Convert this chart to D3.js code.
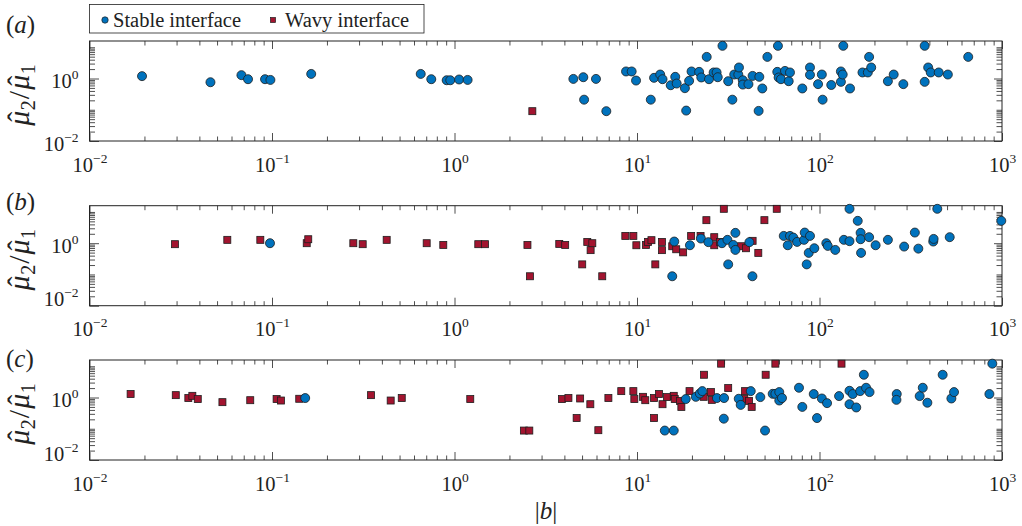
<!DOCTYPE html>
<html><head><meta charset="utf-8">
<script src="https://cdn.jsdelivr.net/npm/d3@7"></script>
<style>
html,body{margin:0;padding:0;background:#fff;}
svg{display:block;font-family:"Liberation Serif","Times New Roman",serif;}
</style></head>
<body>
<svg id="chart" width="1022" height="526"></svg>
<script>
// ---------- data (|b|, mu2/mu1) ----------
const panelNames = ["a", "b", "c"];
const seriesNames = ["Stable interface", "Wavy interface"];
const xTickValues = [1e-2, 1e-1, 1e0, 1e1, 1e2, 1e3];
const xTickExps = ["\u22122", "\u22121", "0", "1", "2", "3"];
const yTickValues = [1e-2, 1e0];
const yTickExps = ["\u22122", "0"];

const aStableB = [0.0194,0.046,0.068,0.0739,0.0916,0.098,0.164,0.653,0.746,0.906,0.948,1.06,1.18,4.48,5.08,5.13,5.96,6.79,8.71,9.35,9.88,11.9,12.4,13.4,13.8,15.3,16.2,16.5,18.3,18.6,19.3,19.9,21.9,22.5,24.1,24.8,26.3,27.3,27.7,29.4,31.6,33.3,34.1,35.9,36.2,38,38,40.8,43,46.4,46.8,48.6,51.8,58.7,59.2,59.7,61.5,64.7,67.8,68.9,80.5,88.7,88.7,98.2,103,104,116,131,131,134,135,147,172,184,187,192,237,255,288,377,377,394,407,450,505,653];
const aStableMu = [1.19,0.76,1.28,0.95,0.95,0.9,1.4,1.4,0.95,0.88,0.88,0.93,0.9,0.97,1.1,0.21,0.97,0.09,1.68,1.68,0.86,0.21,1.05,1.34,0.95,0.61,1.13,0.69,0.49,0.094,0.84,1.68,1.63,1.08,4.92,0.95,1.56,1.56,1.1,11.1,0.82,0.21,1.34,1.34,2.25,0.88,0.64,0.66,1.21,0.092,1.13,0.48,4.92,1.63,11.1,1.08,0.95,1.75,0.82,1.56,0.48,2.25,1.31,0.66,1.34,0.21,0.62,1.68,0.78,1.34,11.1,0.48,1.56,1.56,4.92,2.25,0.82,1.34,0.66,11.1,0.78,2.25,1.56,1.56,1.34,4.92];
const aWavyB = [2.67];
const aWavyMu = [0.09];

const bStableB = [0.0975,15.6,16,19.5,22.4,24.6,29.2,31.3,31.6,33.7,34.6,34.6,41.3,42.9,63.7,67,68.9,71.9,75.4,82.3,83,85.1,87.3,88.7,93.7,109,111,122,136,146,146,162,168,168,169,187,203,237,291,333,348,420,422,442,517,991];
const bStableMu = [1.0,0.0875,1.13,0.86,1.41,1.08,1.0,1.28,0.21,0.88,2.14,0.61,1.08,0.0875,1.71,0.86,1.71,1.51,1.1,1.28,2.19,0.21,0.49,1.71,0.69,1.0,0.82,0.61,1.28,12.6,1.16,5.19,2.14,1.34,0.49,1.56,0.86,1.28,0.78,2.19,0.67,1.13,1.37,12.6,1.56,5.19];
const bWavyB = [0.0294,0.0569,0.0863,0.155,0.158,0.279,0.314,0.425,0.704,0.868,1.35,1.47,2.51,2.59,3.75,4.04,5.01,5.34,5.57,5.69,6.45,8.63,9.55,9.92,11.2,11.5,12,12.6,13.7,13.7,15.6,16.4,17.9,19.8,22.3,24,26.5,26.5,28.5,29.9,37.2,39.6,43,46.2,49.9,58.3];
const bWavyMu = [0.93,1.28,1.28,1.0,1.34,1.0,0.93,1.28,1.0,0.88,0.93,0.93,0.88,0.0875,0.95,0.88,0.21,1.1,0.6,1.0,0.0875,1.71,1.71,0.86,0.88,1.1,1.25,0.21,1.1,0.6,0.8,0.64,0.51,1.71,1.71,5.46,1.56,0.86,1.1,12.6,0.8,0.69,1.19,0.49,5.46,12.6];

const cStableB = [0.152,14.2,15.9,18.5,21,22.1,22.8,27.4,30,29.9,36.1,37,42,47.4,50.3,55.4,57.3,60.2,60.2,62.3,77.2,80.5,93,96.9,103,110,128,146,146,152,159,167,175,180,188,265,264,354,368,390,473,528,546,853,885];
const cStableMu = [0.96,0.0875,0.0875,0.89,1.05,1.34,1.6,0.96,0.96,0.21,0.91,0.58,1.6,1.03,0.0875,1.31,1.31,1.49,0.8,0.96,2.05,0.5,1.29,0.22,0.93,0.66,1.11,0.61,1.64,1.29,0.48,1.6,5.34,2.05,1.49,1.29,0.84,1.11,2.05,0.68,5.34,0.93,1.49,1.29,12.1];
const cWavyB = [0.0168,0.0297,0.0348,0.0366,0.0392,0.0535,0.076,0.106,0.112,0.141,0.349,0.447,0.514,1.22,2.40,2.57,3.88,4.21,4.67,4.88,5.55,6.14,6.97,8.2,9.55,9.67,10.8,11.1,12.4,12.4,13.2,13.8,14.6,15.9,16.1,17.2,17.5,19.4,23.2,23.3,25.4,25.7,28.9,31.6,38.7,39.1,41.1,42.5,50.7,57.3,132];
const cWavyMu = [1.29,1.19,0.96,1.13,0.89,0.71,0.82,0.89,0.8,0.91,1.19,0.8,0.96,0.89,0.0875,0.0875,0.89,0.96,0.22,0.93,0.61,0.09,0.96,1.6,1.6,0.89,1.05,0.82,0.96,0.22,1.29,0.61,1.03,1.13,0.89,0.78,0.5,1.6,1.05,5.34,1.49,0.84,12.1,2.0,0.91,1.6,0.78,0.5,5.34,12.1,12.1];

// ---------- layout ----------
const BLUE = "#0072BD", RED = "#A2142F", EDGE = "#1e1e1e";
const FONT = 20.5, SUP = 13.5;
const panelTops = [41, 205.7, 360];
const panelH = 100;
const xLeft = 89.5, xRight = 1002;
const MU_FS = 30, SUB_FS = 20;

const svg = d3.select("#chart");
svg.append("rect").attr("width",1022).attr("height",526).attr("fill","#fff");

function measure(txt, fs, italic) {
  const t = svg.append("text").attr("font-size", fs).attr("font-style", italic ? "italic" : "normal").text(txt);
  const w = t.node().getComputedTextLength();
  t.remove();
  return w;
}
const muW = measure("\u03bc", MU_FS, true);
const hatW = measure("\u02c6", MU_FS, false);

const x = d3.scaleLog().domain([1e-2, 1e3]).range([xLeft, xRight]);

function minorTicks(lo, hi) {
  const out = [];
  for (let e = lo; e < hi; e++) for (let k = 1; k <= 9; k++) out.push(k * Math.pow(10, e));
  return out;
}
const xMinor = minorTicks(-2, 3).filter(v => !xTickValues.includes(v));
const yMinor = minorTicks(-2, 2).filter(v => !yTickValues.includes(v) && v < Math.pow(10,1.2));

const panels = [
  {sB: aStableB, sM: aStableMu, wB: aWavyB, wM: aWavyMu, lab: [33, 6]},
  {sB: bStableB, sM: bStableMu, wB: bWavyB, wM: bWavyMu, lab: [210, 6]},
  {sB: cStableB, sM: cStableMu, wB: cWavyB, wM: cWavyMu, lab: [367, 6]}
];

function supLabel(sel, exp) {
  sel.text(null);
  sel.append("tspan").text("10");
  sel.append("tspan").attr("font-size", SUP).attr("dy", -9).text(exp);
}

// mu with hat + subscript; starts on the main baseline, ends on the subscript baseline (+6)
function addMuHat(t, sub, lead, dy0) {
  t.append("tspan").attr("font-style","italic").attr("dx", lead).attr("dy", dy0).text("\u03bc");
  t.append("tspan").attr("dx", -(muW/2 + hatW/2) + 1.5).attr("dy", -1).text("\u02c6");
  t.append("tspan").attr("font-size", SUB_FS).attr("dx", (muW/2 - hatW/2) - 1).attr("dy", 7).text(sub);
}

panels.forEach((p, i) => {
  const top = panelTops[i], bottom = top + panelH;
  const y = d3.scaleLog().domain([1e-2, Math.pow(10, 1.2)]).range([bottom, top]);
  const g = svg.append("g");

  const tickStyle = s => { s.select(".domain").remove(); s.selectAll("line").attr("stroke","#222").attr("stroke-width",0.8); s.selectAll("text").remove(); };
  g.append("g").attr("transform",`translate(0,${bottom})`).call(d3.axisBottom(x).tickValues(xTickValues).tickSize(-8).tickFormat("")).call(tickStyle);
  g.append("g").attr("transform",`translate(0,${bottom})`).call(d3.axisBottom(x).tickValues(xMinor).tickSize(-4.5).tickFormat("")).call(tickStyle);
  g.append("g").attr("transform",`translate(0,${top})`).call(d3.axisTop(x).tickValues(xTickValues).tickSize(-8).tickFormat("")).call(tickStyle);
  g.append("g").attr("transform",`translate(0,${top})`).call(d3.axisTop(x).tickValues(xMinor).tickSize(-4.5).tickFormat("")).call(tickStyle);
  g.append("g").attr("transform",`translate(${xLeft},0)`).call(d3.axisLeft(y).tickValues(yTickValues).tickSize(-9.5).tickFormat("")).call(tickStyle);
  g.append("g").attr("transform",`translate(${xLeft},0)`).call(d3.axisLeft(y).tickValues(yMinor).tickSize(-5.5).tickFormat("")).call(tickStyle);
  g.append("g").attr("transform",`translate(${xRight},0)`).call(d3.axisRight(y).tickValues(yTickValues).tickSize(-8).tickFormat("")).call(tickStyle);
  g.append("g").attr("transform",`translate(${xRight},0)`).call(d3.axisRight(y).tickValues(yMinor).tickSize(-5.5).tickFormat("")).call(tickStyle);

  g.append("rect").attr("x", xLeft).attr("y", top).attr("width", xRight - xLeft).attr("height", panelH)
    .attr("fill","none").attr("stroke","#222").attr("stroke-width",1);

  const xl = g.append("g").attr("transform",`translate(0,${bottom})`)
    .call(d3.axisBottom(x).tickValues(xTickValues).tickSize(0).tickPadding(0));
  xl.select(".domain").remove();
  xl.selectAll("text").attr("font-family",'"Liberation Serif","Times New Roman",serif').attr("font-size",FONT)
    .attr("fill","#222").attr("dy",null).attr("y",30.5).attr("text-anchor","middle")
    .each(function(d, k){ supLabel(d3.select(this), xTickExps[k]); });

  const yl = g.append("g").attr("transform",`translate(${xLeft},0)`)
    .call(d3.axisLeft(y).tickValues(yTickValues).tickSize(0).tickPadding(11));
  yl.select(".domain").remove();
  yl.selectAll("text").attr("font-family",'"Liberation Serif","Times New Roman",serif').attr("font-size",FONT)
    .attr("fill","#222").attr("dy",null)
    .attr("y", (d) => (d === 1e-2 && i > 0) ? 0 : 9)
    .each(function(d, k){ supLabel(d3.select(this), yTickExps[k]); });

  // y axis label  mu^_2 / mu^_1
  const cy = top + panelH/2 + 4;
  const yt = g.append("text").attr("transform",`translate(29,${cy}) rotate(-90)`)
    .attr("text-anchor","middle").attr("font-size",MU_FS).attr("fill","#222");
  addMuHat(yt, "2", 0, 0);
  yt.append("tspan").attr("dx",1).attr("dy",-6).text("/");
  addMuHat(yt, "1", 1, 0);

  const pl = g.append("text").attr("x", p.lab[1]).attr("y", p.lab[0]).attr("font-size", 25).attr("fill","#222");
  pl.append("tspan").text("(");
  pl.append("tspan").attr("font-style","italic").text(panelNames[i]);
  pl.append("tspan").text(")");

  const sq = 7;
  g.append("g").selectAll("rect").data(p.wB.map((b, k) => [b, p.wM[k]])).join("rect")
    .attr("x", d => x(d[0]) - sq/2).attr("y", d => y(d[1]) - sq/2)
    .attr("width", sq).attr("height", sq)
    .attr("fill", RED).attr("stroke", EDGE).attr("stroke-width", 0.8);
  g.append("g").selectAll("circle").data(p.sB.map((b, k) => [b, p.sM[k]])).join("circle")
    .attr("cx", d => x(d[0])).attr("cy", d => y(d[1])).attr("r", 4.5)
    .attr("fill", BLUE).attr("stroke", EDGE).attr("stroke-width", 0.8);
});

const xt = svg.append("text").attr("x", 546).attr("y", 519).attr("text-anchor","middle").attr("font-size",25).attr("fill","#222");
xt.append("tspan").text("|");
xt.append("tspan").attr("font-style","italic").text("b");
xt.append("tspan").text("|");

const lg = svg.append("g");
lg.append("rect").attr("x",89.5).attr("y",4.5).attr("width",334.5).attr("height",28.5)
  .attr("fill","#fff").attr("stroke","#222").attr("stroke-width",0.8);
lg.append("circle").attr("cx",105).attr("cy",20).attr("r",3.2).attr("fill",BLUE).attr("stroke",EDGE).attr("stroke-width",0.7);
lg.append("text").attr("x",113).attr("y",27).attr("font-size",FONT).attr("fill","#222").text(seriesNames[0]);
lg.append("rect").attr("x",270.5).attr("y",17.5).attr("width",5).attr("height",5).attr("fill",RED).attr("stroke",EDGE).attr("stroke-width",0.7);
lg.append("text").attr("x",285).attr("y",27).attr("font-size",FONT).attr("fill","#222").text(seriesNames[1]);
</script>
</body></html>
